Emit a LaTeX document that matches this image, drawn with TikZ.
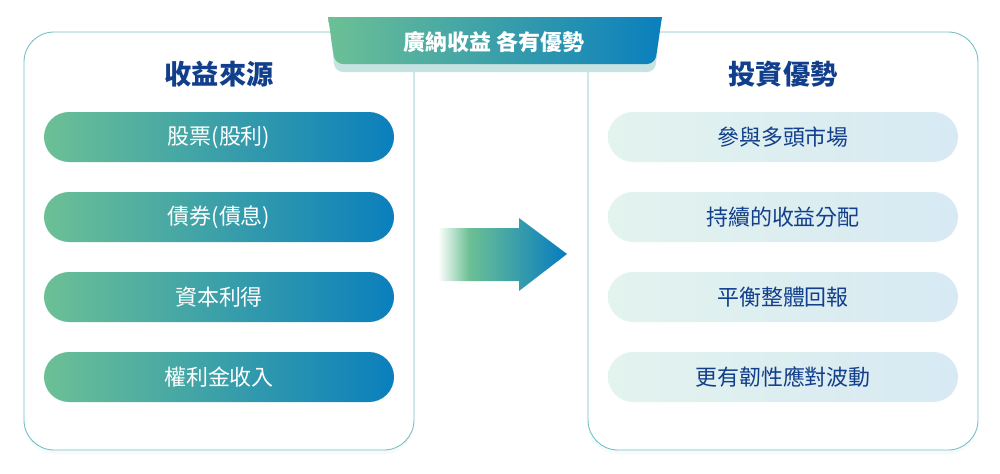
\documentclass[tikz,border=0pt]{standalone}
\usepackage{fontspec}
\setmainfont{Noto Sans CJK TC}
\usetikzlibrary{shadows}

\definecolor{bandgreen}{HTML}{6CC095}
\definecolor{bandblue}{HTML}{0A7FBD}
\definecolor{titlenavy}{HTML}{123F8C}
\definecolor{framecyan}{HTML}{74BFC6}
\definecolor{palegreen}{HTML}{E3F3EE}
\definecolor{paleblue}{HTML}{D7E9F3}
\definecolor{bannershade}{HTML}{C6E2E1}
\pgfdeclarehorizontalshading{arrowfade}{100bp}{color(0bp)=(white); color(25bp)=(white); color(37bp)=(bandgreen); color(73bp)=(bandblue); color(100bp)=(bandblue)}

\begin{document}
\begin{tikzpicture}[
  x=0.2mm, y=-0.2mm,
  panel/.style={draw=framecyan, line width=0.5pt, fill=white, rounded corners=6mm,
    minimum width=78mm, minimum height=83.6mm, inner sep=0pt,
    drop shadow={shadow xshift=0mm, shadow yshift=-0.8mm, opacity=0.07, fill=framecyan}},
  srcpill/.style={rounded corners=5mm, minimum width=70mm, minimum height=10mm,
    left color=bandgreen, right color=bandblue, text=white, font=\fontsize{12.5}{14}\selectfont},
  advpill/.style={rounded corners=5mm, minimum width=70mm, minimum height=10mm,
    left color=palegreen, right color=paleblue, text=titlenavy, font=\fontsize{12.5}{14}\selectfont},
  heading/.style={text=titlenavy, font=\fontsize{15.5}{18}\selectfont\bfseries}
]
  \useasboundingbox (0,0) rectangle (1000,474);

  % two panels
  \node[panel] (srcpanel) at (219,241) {};
  \node[panel] (advpanel) at (783,241) {};

  % banner with its shadow
  \fill[bannershade, rounded corners=1.6mm] (330,30) -- (660,30) -- (655,72) -- (335,72) -- cycle;
  \shade[left color=bandgreen, right color=bandblue]
    (328,17) -- (662,17) {[rounded corners=1.6mm] -- (655,64) -- (335,64)} -- cycle;
  \node[text=white, font=\fontsize{12.5}{14}\selectfont\bfseries] (banner) at (494,42) {廣納收益 各有優勢};

  \node[heading] (srctitle) at (219,74) {收益來源};
  \node[heading] (advtitle) at (783,74) {投資優勢};

  \foreach \txt [count=\i] in {股票(股利), 債券(債息), 資本利得, 權利金收入} {
    \node[srcpill] (src\i) at (219,57+80*\i) {\txt};
  }
  \foreach \txt [count=\i] in {參與多頭市場, 持續的收益分配, 平衡整體回報, 更有韌性應對波動} {
    \node[advpill] (adv\i) at (783,57+80*\i) {\txt};
  }

  % big arrow
  \shade[shading=arrowfade]
    (438,228) -- (519,228) -- (519,218) -- (567,254) -- (519,291) -- (519,281) -- (438,281) -- cycle;
\end{tikzpicture}
\end{document}
